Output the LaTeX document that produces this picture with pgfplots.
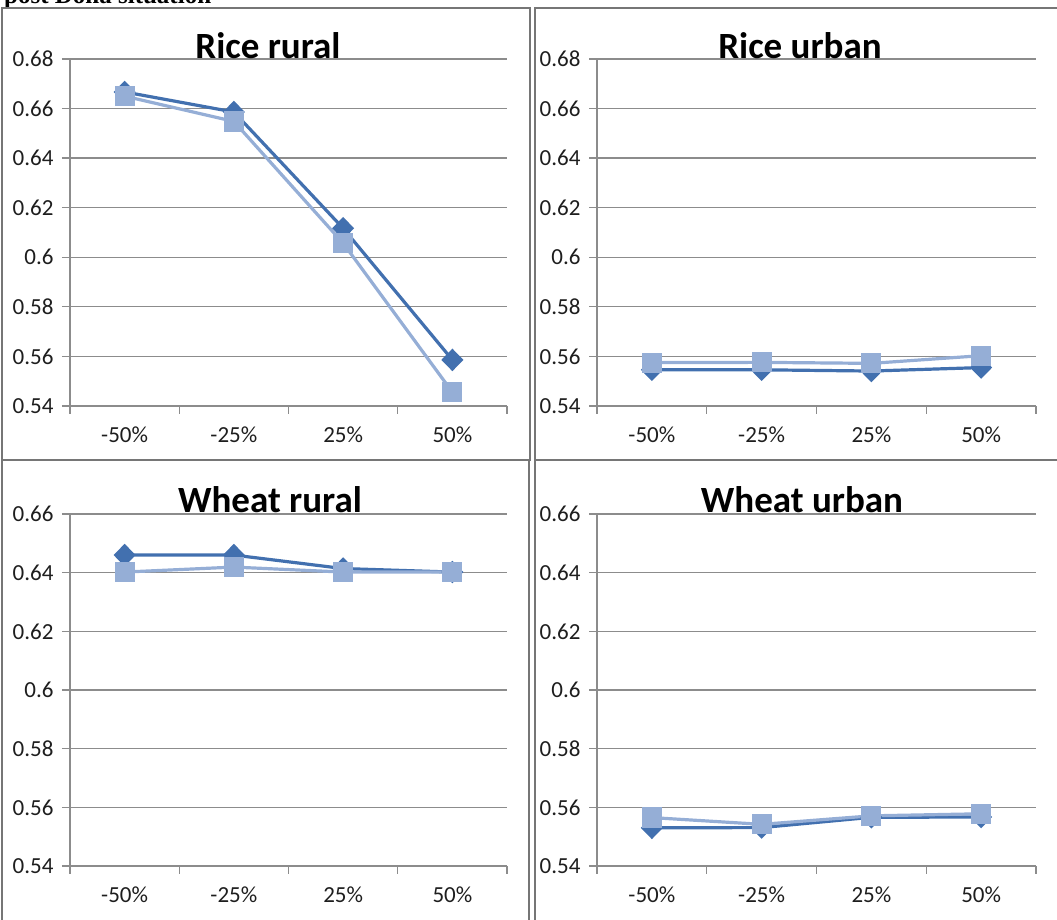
\documentclass[border=0pt]{standalone}
\usepackage{fontspec}
\setmainfont{Carlito}
\newfontfamily\headserif{Liberation Serif}
\usepackage{pgfplots}
\pgfplotsset{compat=1.18}

\definecolor{serA}{RGB}{66,112,175}
\definecolor{serB}{RGB}{149,174,214}
\definecolor{gridc}{RGB}{140,140,140}
\definecolor{framec}{RGB}{118,118,118}
\definecolor{labelc}{RGB}{30,30,30}

\pgfplotsset{
  panel/.style={
    scale only axis,
    anchor=south west,
    xmin=0.5, xmax=4.5,
    axis x line*=bottom, axis y line*=left,
    axis line style={gridc, line width=1.3pt, -},
    xtick={0.5,1.5,2.5,3.5,4.5},
    xticklabels={,,,,},
    extra x ticks={1,2,3,4},
    extra x tick labels={-50\%,-25\%,25\%,50\%},
    extra x tick style={major tick length=0pt,
      xticklabel style={yshift=-17pt}},
    tick align=outside,
    major tick length=8pt,
    tick style={gridc, line width=1.3pt},
    ymajorgrids,
    grid style={gridc, line width=1.3pt},
    tick label style={font=\fontsize{23}{27}\selectfont, text=labelc},
    yticklabel style={xshift=-5pt},
    clip=false,
  },
  darkline/.style={serA, line width=3.2pt, mark=diamond*, mark size=9pt,
    mark options={xscale=1.3, solid}},
  lightline/.style={serB, line width=3.2pt, mark=square*, mark size=8.5pt,
    mark options={solid}},
  upper/.style={ymin=0.54, ymax=0.68,
    ytick={0.54,0.56,0.58,0.6,0.62,0.64,0.66,0.68},
    yticklabels={0.54,0.56,0.58,0.6,0.62,0.64,0.66,0.68},
    height=347pt},
  lower/.style={ymin=0.54, ymax=0.66,
    ytick={0.54,0.56,0.58,0.6,0.62,0.64,0.66},
    yticklabels={0.54,0.56,0.58,0.6,0.62,0.64,0.66},
    height=352pt},
}

\begin{document}
\begin{tikzpicture}[x=1pt,y=1pt]
\useasboundingbox (0,0) rectangle (1057,920);
\clip (0,0) rectangle (1057,920);

% caption line above the panels (runs past the page top)
\node[anchor=base west, inner sep=0pt,
  font=\headserif\bfseries\fontsize{25}{29}\selectfont] at (4,916) {post Doha situation};

% panel frames
\draw[framec, line width=2.4pt] (2,912) rectangle (530,460);
\draw[framec, line width=2.4pt] (535,912) rectangle (1062,460);
\draw[framec, line width=2.4pt] (2,460) rectangle (529,-10);
\draw[framec, line width=2.4pt] (535,460) rectangle (1062,-10);

% Rice rural
\begin{axis}[panel, upper, at={(70pt,514pt)}, width=437pt]
\addplot[darkline] coordinates {(1,0.6667) (2,0.6586) (3,0.6117) (4,0.5586)};
\addplot[lightline] coordinates {(1,0.6650) (2,0.6548) (3,0.6057) (4,0.5456)};
\end{axis}
\node[anchor=base, inner sep=0pt, font=\bfseries\fontsize{37}{40}\selectfont] at (268,861) {Rice rural};

% Rice urban
\begin{axis}[panel, upper, at={(597pt,514pt)}, width=439pt]
\addplot[darkline] coordinates {(1,0.5546) (2,0.5546) (3,0.5541) (4,0.5555)};
\addplot[lightline] coordinates {(1,0.5575) (2,0.5576) (3,0.5572) (4,0.5603)};
\end{axis}
\node[anchor=base, inner sep=0pt, font=\bfseries\fontsize{37}{40}\selectfont] at (800,861) {Rice urban};

% Wheat rural
\begin{axis}[panel, lower, at={(70pt,54pt)}, width=437pt]
\addplot[darkline] coordinates {(1,0.6460) (2,0.6460) (3,0.6414) (4,0.6402)};
\addplot[lightline] coordinates {(1,0.6402) (2,0.6419) (3,0.6402) (4,0.6402)};
\end{axis}
\node[anchor=base, inner sep=0pt, font=\bfseries\fontsize{37}{40}\selectfont] at (270,407) {Wheat rural};

% Wheat urban
\begin{axis}[panel, lower, at={(597pt,54pt)}, width=439pt]
\addplot[darkline] coordinates {(1,0.5530) (2,0.5531) (3,0.5566) (4,0.5567)};
\addplot[lightline] coordinates {(1,0.5565) (2,0.5542) (3,0.5571) (4,0.5578)};
\end{axis}
\node[anchor=base, inner sep=0pt, font=\bfseries\fontsize{37}{40}\selectfont] at (802,407) {Wheat urban};
\end{tikzpicture}
\end{document}
